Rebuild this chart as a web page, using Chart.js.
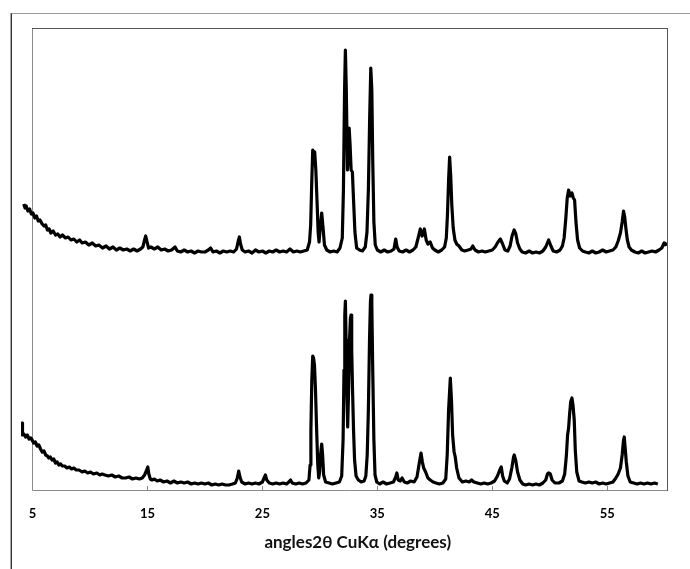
<!DOCTYPE html>
<html>
<head>
<meta charset="utf-8">
<script src="https://cdn.jsdelivr.net/npm/chart.js@4/dist/chart.umd.min.js"></script>
<style>
  html, body { margin: 0; padding: 0; background: #fff; }
  #wrap { position: relative; width: 690px; height: 569px; overflow: hidden; }
  /* outer chart-area frame, only left and top edges are in view */
  #frame {
    position: absolute; left: 11px; top: 13px; width: 700px; height: 600px;
    border-left: 1px solid #333; border-top: 1px solid #9a9a9a;
    box-shadow: -1px 0 0 #aaa;
  }
  canvas { position: absolute; left: 0; top: 0; }
</style>
</head>
<body>
<div id="wrap">
  <div id="frame"></div>
  <canvas id="xrd" width="690" height="569"></canvas>
</div>
<script>
/* XRD patterns (2θ, CuKα), two scans stacked with an offset.
 * Intensities are arbitrary units.
 */

const xTicks = [5, 15, 25, 35, 45, 55];
const xTitle = "angles2θ CuKα (degrees)";

// top pattern: [2θ, intensity]
const upperScan = [
  [4.24,286],[4.35,282],[4.45,284],[4.6,279],[4.75,281],[4.9,276],[5.05,277],[5.2,272],[5.35,274],[5.5,269],
  [5.65,270],[5.84,266],[6.0,264],[6.15,265],[6.3,260],[6.45,261],[6.6,257],[6.8,259],[7.0,255],[7.2,256],
  [7.4,253],[7.6,255],[7.87,252],[8.1,253],[8.35,250],[8.6,251],[8.85,248],[9.1,250],[9.32,247],[9.6,248],
  [9.9,245],[10.2,247],[10.5,244],[10.77,245],[11.1,242],[11.4,244],[11.7,241],[12.0,243],[12.3,240],[12.6,242],
  [12.9,240],[13.2,241],[13.5,239],[13.8,241],[14.1,239],[14.4,241],[14.6,243],[14.75,250],[14.85,254],[14.95,249],
  [15.1,242],[15.3,243],[15.6,241],[15.9,243],[16.2,240],[16.5,241],[16.8,239],[17.1,240],[17.4,243],[17.6,239],
  [17.9,238],[18.2,240],[18.5,238],[18.8,239],[19.1,237],[19.4,239],[19.7,238],[20.0,238],[20.3,240],[20.5,242],
  [20.7,238],[21.0,239],[21.3,237],[21.6,239],[21.9,238],[22.2,239],[22.5,238],[22.75,241],[22.9,249],[23.0,253],
  [23.1,246],[23.25,240],[23.5,238],[23.8,239],[24.1,237],[24.4,240],[24.7,238],[25.0,239],[25.3,237],[25.6,239],
  [25.9,238],[26.2,240],[26.5,238],[26.8,239],[27.1,238],[27.4,241],[27.7,238],[28.0,239],[28.3,238],[28.6,239],
  [28.9,240],[29.1,248],[29.2,265],[29.3,310],[29.38,340],[29.47,337],[29.55,338],[29.65,320],[29.75,290],[29.85,258],
  [29.93,248],[30.03,262],[30.16,277],[30.28,262],[30.4,245],[30.6,240],[30.9,238],[31.2,239],[31.5,238],[31.75,242],
  [31.95,252],[32.05,300],[32.15,400],[32.22,440],[32.3,400],[32.4,320],[32.47,335],[32.55,362],[32.63,345],[32.72,320],
  [32.83,318],[32.93,290],[33.05,258],[33.2,242],[33.45,240],[33.7,239],[33.95,243],[34.1,258],[34.22,300],[34.33,370],
  [34.43,422],[34.52,400],[34.6,330],[34.7,268],[34.82,245],[35.0,240],[35.3,238],[35.6,240],[35.9,238],[36.2,239],
  [36.45,241],[36.6,251],[36.72,243],[36.9,239],[37.2,238],[37.5,240],[37.8,238],[38.1,240],[38.35,243],[38.55,252],
  [38.74,261],[38.9,254],[39.09,261],[39.25,250],[39.4,246],[39.6,248],[39.8,242],[40.0,240],[40.3,238],[40.6,240],
  [40.85,243],[41.0,252],[41.1,275],[41.2,310],[41.29,333],[41.38,315],[41.48,285],[41.6,262],[41.75,250],[41.9,246],
  [42.1,244],[42.35,240],[42.6,239],[42.9,240],[43.15,241],[43.3,244],[43.5,240],[43.8,238],[44.1,239],[44.4,238],
  [44.7,239],[45.0,240],[45.25,243],[45.5,248],[45.7,251],[45.9,246],[46.1,240],[46.35,239],[46.55,244],[46.72,254],
  [46.9,260],[47.05,256],[47.2,247],[47.4,241],[47.6,238],[47.9,237],[48.2,239],[48.5,237],[48.8,238],[49.1,237],
  [49.4,239],[49.65,243],[49.9,250],[50.1,244],[50.3,239],[50.6,238],[50.9,240],[51.1,244],[51.25,252],[51.4,272],
  [51.52,292],[51.64,300],[51.78,294],[51.93,297],[52.05,292],[52.16,290],[52.28,268],[52.42,250],[52.6,242],[52.85,239],
  [53.1,238],[53.4,237],[53.7,239],[54.0,237],[54.3,238],[54.6,240],[54.9,238],[55.2,239],[55.5,240],[55.75,243],
  [55.95,249],[56.15,257],[56.3,268],[56.42,279],[56.52,273],[56.62,262],[56.75,250],[56.9,243],[57.1,240],[57.4,238],
  [57.7,237],[58.0,239],[58.3,237],[58.6,238],[58.9,239],[59.2,238],[59.5,240],[59.75,242],[59.95,247],[60.1,246],
  [60.15,244],
];

// bottom pattern: [2θ, intensity]
const lowerScan = [
  [4.08,58],[4.1,67],[4.13,55],[4.25,56],[4.4,53],[4.55,55],[4.7,51],[4.85,52],[4.97,50],[5.1,47],
  [5.25,48],[5.4,44],[5.55,45],[5.7,41],[5.84,38],[6.0,39],[6.15,35],[6.3,34],[6.42,32],[6.55,33],
  [6.7,30],[6.85,31],[7.0,27],[7.15,28],[7.29,25],[7.45,26],[7.6,24],[7.8,24],[8.0,22],[8.2,23],
  [8.4,21],[8.6,22],[8.8,20],[9.05,20],[9.32,18],[9.55,19],[9.8,17],[10.05,18],[10.3,16],[10.6,17],
  [10.85,15],[11.06,16],[11.3,15],[11.6,14],[11.9,15],[12.2,13],[12.5,14],[12.8,12],[13.1,12],[13.4,13],
  [13.7,11],[14.0,12],[14.3,11],[14.55,12],[14.75,15],[14.9,19],[15.03,23],[15.12,16],[15.25,11],[15.4,10],
  [15.6,11],[15.85,9],[16.1,10],[16.4,8],[16.7,9],[17.0,7],[17.3,9],[17.6,7],[17.9,8],[18.2,7],
  [18.5,8],[18.8,6],[19.1,7],[19.4,6],[19.7,7],[20.0,6],[20.3,7],[20.6,5],[20.9,6],[21.2,5],
  [21.5,6],[21.8,5],[22.1,5],[22.4,6],[22.65,7],[22.82,12],[22.94,19],[23.05,13],[23.2,8],[23.5,6],
  [23.8,7],[24.1,6],[24.4,7],[24.7,6],[25.0,8],[25.15,12],[25.26,15],[25.38,10],[25.6,7],[25.9,6],
  [26.2,7],[26.5,6],[26.8,7],[27.1,6],[27.3,8],[27.45,10],[27.6,7],[27.9,6],[28.2,7],[28.5,6],
  [28.8,7],[29.05,10],[29.15,25],[29.22,60],[29.3,110],[29.38,134],[29.45,132],[29.53,125],[29.62,100],[29.72,60],
  [29.82,25],[29.9,12],[29.98,18],[30.06,35],[30.16,46],[30.24,35],[30.33,15],[30.5,8],[30.8,7],[31.1,6],
  [31.4,7],[31.7,8],[31.9,14],[32.02,50],[32.1,120],[32.17,175],[32.22,189],[32.28,150],[32.35,95],[32.42,63],
  [32.5,100],[32.58,150],[32.66,172],[32.71,175],[32.77,140],[32.85,97],[32.93,60],[33.02,30],[33.15,14],[33.35,10],
  [33.6,8],[33.85,9],[34.0,14],[34.12,35],[34.22,80],[34.32,150],[34.4,188],[34.45,195],[34.52,185],[34.6,120],
  [34.7,50],[34.8,15],[34.95,8],[35.2,6],[35.5,8],[35.8,6],[36.1,7],[36.4,8],[36.6,13],[36.7,17],
  [36.82,10],[37.0,9],[37.15,12],[37.35,8],[37.6,7],[37.9,9],[38.2,8],[38.45,13],[38.62,25],[38.8,37],
  [38.92,28],[39.03,22],[39.2,18],[39.4,12],[39.6,10],[39.85,8],[40.1,7],[40.4,6],[40.7,7],[40.95,11],
  [41.08,35],[41.2,80],[41.35,112],[41.45,90],[41.55,55],[41.68,38],[41.78,33],[41.9,22],[42.1,12],[42.4,8],
  [42.7,9],[43.0,8],[43.2,10],[43.4,8],[43.7,7],[44.0,6],[44.3,7],[44.6,6],[44.9,7],[45.2,9],
  [45.45,14],[45.65,20],[45.78,23],[45.9,14],[46.05,9],[46.3,7],[46.5,11],[46.7,22],[46.85,33],[46.91,35],
  [47.05,29],[47.2,18],[47.4,10],[47.65,6],[47.9,5],[48.2,6],[48.5,5],[48.8,6],[49.1,5],[49.4,7],
  [49.65,10],[49.8,16],[49.9,17],[50.05,16],[50.2,10],[50.45,7],[50.8,7],[51.1,9],[51.3,16],[51.45,35],
  [51.55,55],[51.64,62],[51.72,75],[51.82,88],[51.93,92],[52.02,85],[52.13,70],[52.22,40],[52.35,18],[52.55,9],
  [52.8,8],[53.1,7],[53.4,8],[53.7,7],[54.0,8],[54.3,6],[54.6,7],[54.9,6],[55.2,7],[55.5,8],
  [55.75,12],[55.95,16],[56.15,22],[56.3,35],[56.42,50],[56.48,53],[56.56,42],[56.66,28],[56.8,14],[57.0,8],
  [57.3,7],[57.6,6],[57.9,7],[58.2,6],[58.5,7],[58.8,6],[59.1,7],[59.4,6],
];

(function () {
  const axisStart = xTicks[0]; // the drawn box starts at 5°, data a little before

  const toPoints = (scan) => scan.map(([x, y]) => ({ x, y }));

  const scanLine = (data) => ({
    data: toPoints(data),
    borderColor: "#000",
    borderWidth: 3.2,
    borderJoinStyle: "round",
    pointRadius: 0,
    tension: 0,
  });

  // plot box from 5° to the right edge, inward tick marks and the axis title
  const plotBox = {
    id: "plotBox",
    beforeDatasetsDraw(chart) {
      const { ctx, chartArea: a, scales } = chart;
      const left = Math.round(scales.x.getPixelForValue(axisStart));
      const right = Math.round(a.right);
      const top = Math.round(a.top);
      const bottom = Math.round(a.bottom);
      ctx.save();
      ctx.lineWidth = 1;
      ctx.strokeStyle = "#8a8a8a";
      ctx.beginPath();
      xTicks.forEach((t) => {
        const px = Math.round(scales.x.getPixelForValue(t)) + 0.5;
        ctx.moveTo(px, bottom);
        ctx.lineTo(px, bottom - 4);
      });
      ctx.moveTo(left + 0.5, top);
      ctx.lineTo(left + 0.5, bottom + 0.5);
      ctx.lineTo(right, bottom + 0.5);
      ctx.stroke();
      ctx.strokeStyle = "#555";
      ctx.beginPath();
      ctx.moveTo(left, top + 0.5);
      ctx.lineTo(right + 1, top + 0.5);
      ctx.moveTo(right + 0.5, top);
      ctx.lineTo(right + 0.5, bottom + 1);
      ctx.stroke();
      ctx.restore();
    },
    afterDraw(chart) {
      const { ctx, chartArea: a, scales } = chart;
      const mid = (scales.x.getPixelForValue(axisStart) + a.right) / 2 + 8;
      ctx.save();
      ctx.fillStyle = "#111";
      ctx.font = "bold 17px Lato";
      ctx.textAlign = "center";
      ctx.textBaseline = "middle";
      ctx.fillText(xTitle, mid, 543);
      ctx.restore();
    },
  };

  new Chart(document.getElementById("xrd").getContext("2d"), {
    type: "line",
    data: { datasets: [scanLine(upperScan), scanLine(lowerScan)] },
    options: {
      responsive: false,
      animation: false,
      layout: { padding: { left: 21, right: 23, top: 28, bottom: 0 } },
      plugins: { legend: { display: false }, tooltip: { enabled: false } },
      scales: {
        x: {
          type: "linear",
          min: 4,
          max: 60.2,
          grid: { display: false },
          border: { display: false },
          afterBuildTicks: (scale) => {
            scale.ticks = xTicks.map((v) => ({ value: v }));
          },
          afterFit: (scale) => { scale.height = 79; },
          ticks: {
            color: "#000",
            padding: 8,
            maxRotation: 0,
            font: { family: "Lato", weight: "bold", size: 13 },
          },
        },
        y: { display: false, min: 0, max: 462 },
      },
    },
    plugins: [plotBox],
  });
})();
</script>
</body>
</html>
